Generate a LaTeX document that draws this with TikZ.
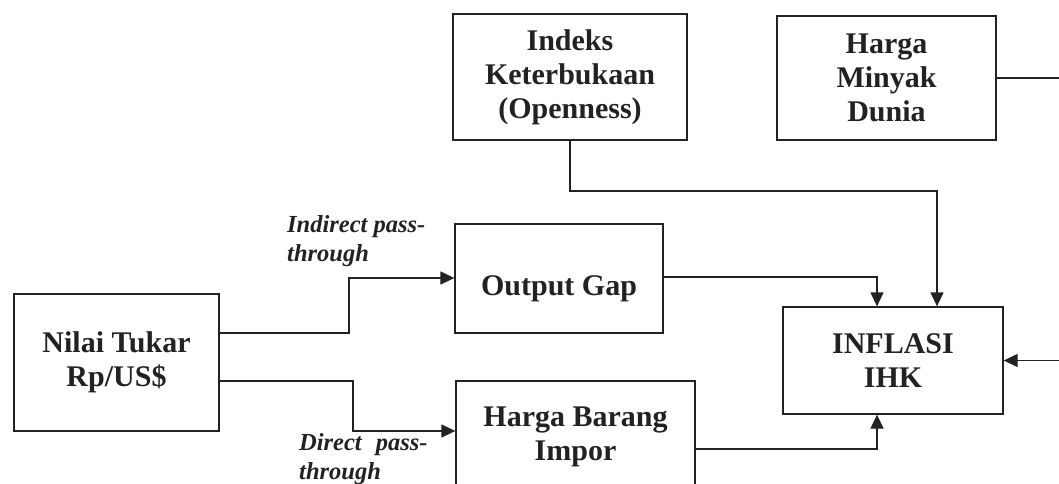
\documentclass[tikz,border=0pt]{standalone}
\usepackage{fontspec}
\setmainfont{Liberation Serif}
\usetikzlibrary{arrows.meta}
\definecolor{ink}{HTML}{222222}
\tikzset{
  box/.style={draw=ink, line width=1.3pt, rectangle, inner sep=0pt, align=center,
    font=\fontsize{30pt}{34pt}\selectfont\bfseries, text=ink},
  lbl/.style={inner sep=0pt, font=\fontsize{24.5pt}{28pt}\selectfont\bfseries\itshape, text=ink},
  arr/.style={draw=ink, line width=1.3pt, -{Triangle[length=14pt,width=13pt]}},
  wire/.style={draw=ink, line width=1.3pt}
}
\begin{document}
\begin{tikzpicture}[x=1pt,y=-1pt]
\useasboundingbox (0,0) rectangle (1059,484);
% boxes
\node[box, minimum width=205pt, minimum height=137pt] (nilai) at (116.5,362.5) {Nilai Tukar\\Rp/US\$};
\node[box, minimum width=208pt, minimum height=109pt] (outgap) at (559,278.5) {\raisebox{-10pt}[\height][\depth]{Output Gap}};
\node[box, minimum width=239pt, minimum height=112pt] (impor) at (575.5,437) {Harga Barang\\Impor};
\node[box, minimum width=234pt, minimum height=126pt] (indeks) at (570,77) {Indeks\\Keterbukaan\\(Openness)};
\node[box, minimum width=219pt, minimum height=124pt] (minyak) at (886.5,78) {Harga\\Minyak\\Dunia};
\node[box, minimum width=220pt, minimum height=107pt] (inflasi) at (893,360.5) {INFLASI\\IHK};
% helper coordinates
\coordinate (c1) at (937,191);
\coordinate (c2) at (1075,78);
\coordinate (j1) at (349,333);
\coordinate (j1b) at (349,278);
\coordinate (j2) at (353,381);
\coordinate (j2b) at (353,431);
\coordinate (c5) at (877,277);
\coordinate (c6) at (877,449);
% connectors
\draw[arr] (indeks.south) |- (c1) -- (c1 |- inflasi.north);
\draw[arr] (minyak.east) -- (c2) |- (inflasi.east);
\draw[arr] (nilai.east |- j1) -- (j1) -- (j1b) -- (outgap.west |- j1b);
\draw[arr] (nilai.east |- j2) -- (j2) -- (j2b) -- (impor.west |- j2b);
\draw[arr] (outgap.east |- c5) -- (c5) -- (c5 |- inflasi.north);
\draw[arr] (impor.east |- c6) -- (c6) -- (c6 |- inflasi.south);
% labels
\node[lbl, anchor=base west] (l1) at (287,232) {Indirect pass-};
\node[lbl, anchor=base west] (l2) at (287,261) {through};
\node[lbl, anchor=base west] (l3) at (299,450) {Direct\hspace{8pt} pass-};
\node[lbl, anchor=base west] (l4) at (299,479) {through};
\end{tikzpicture}
\end{document}
